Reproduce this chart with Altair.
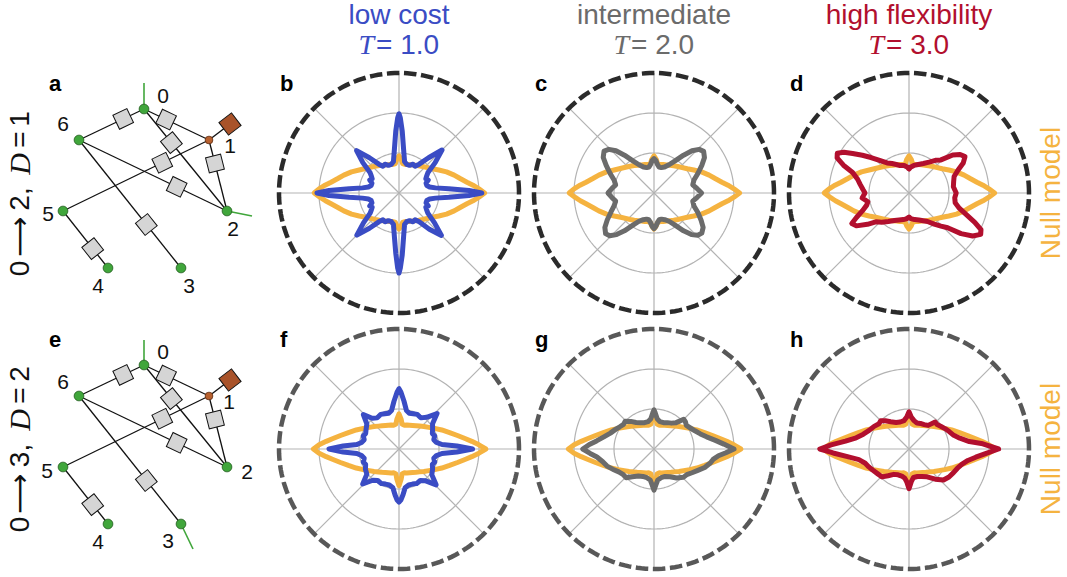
import math
import altair as alt
import pandas as pd

# ------------------------------------------------------------------ styling
SANS = "Liberation Sans"
SERIF = "Liberation Serif"
ARROW_FONT = "DejaVu Sans"
BLUE = "#3a4cc4"
GREY = "#6b6b6b"
RED = "#b20f2e"
ORANGE = "#f5b340"
GRID = "#b3b3b3"
INK = "#111111"
NODE_GREEN = "#40a63b"
NODE_EDGE = "#1f5a1c"
BROWN = "#a9532a"
SQUARE_FILL = "#d5d5d5"
RING_COLOURS = ["#2b2b2b", "#585858"]

# ------------------------------------------------------------------ headers
REGIME_NAMES = ["low cost", "intermediate", "high flexibility"]
REGIME_T = ["1.0", "2.0", "3.0"]
REGIME_COLOURS = [BLUE, GREY, RED]
PANEL_LETTERS = [["b", "c", "d"], ["f", "g", "h"]]
NETWORK_LETTERS = ["a", "e"]

# ------------------------------------------------------------------ polar grid
GRID_RADII = [1, 2]
OUTER_RADIUS = 3
SPOKE_DEG = [0, 45, 90, 135, 180, 225, 270, 315]

# ------------------------------------------------------------------ angular profiles
# angle in degrees (counter-clockwise from east), radius in grid units
NULL1_DEG = [0, 3, 6, 9, 13, 18, 24, 30, 36, 42, 48, 54, 60, 66, 72, 78, 83, 86, 90, 94,
             97, 102, 108, 114, 120, 126, 132, 138, 144, 150, 156, 162, 167, 171, 174, 177, 180, 183, 186, 189,
             193, 198, 204, 210, 216, 222, 228, 234, 240, 246, 252, 258, 263, 266, 270, 274, 277, 282, 288, 294,
             300, 306, 312, 318, 324, 330, 336, 342, 347, 351, 354, 357]
NULL1_R = [2.14, 2.0, 1.86, 1.72, 1.58, 1.45, 1.3, 1.15, 1.03, 0.95, 0.89, 0.84, 0.8, 0.77, 0.75, 0.73, 0.74, 0.84, 0.93, 0.84,
           0.74, 0.73, 0.75, 0.77, 0.8, 0.85, 0.9, 0.96, 1.04, 1.15, 1.3, 1.45, 1.58, 1.72, 1.86, 2.0, 2.12, 1.98, 1.85, 1.72,
           1.58, 1.45, 1.3, 1.15, 1.03, 0.95, 0.89, 0.84, 0.8, 0.77, 0.75, 0.73, 0.74, 0.82, 0.9, 0.82, 0.74, 0.73, 0.75, 0.77,
           0.8, 0.84, 0.89, 0.95, 1.03, 1.15, 1.3, 1.45, 1.58, 1.72, 1.86, 2.0]

NULL2_DEG = NULL1_DEG
NULL2_R = [2.17, 2.0, 1.83, 1.67, 1.5, 1.33, 1.17, 1.03, 0.92, 0.84, 0.77, 0.72, 0.68, 0.65, 0.63, 0.61, 0.63, 0.75, 0.88, 0.75,
           0.63, 0.61, 0.63, 0.65, 0.68, 0.72, 0.77, 0.84, 0.92, 1.03, 1.17, 1.33, 1.5, 1.67, 1.83, 2.0, 2.14, 2.0, 1.83, 1.67,
           1.5, 1.33, 1.17, 1.03, 0.92, 0.84, 0.77, 0.72, 0.68, 0.65, 0.63, 0.61, 0.63, 0.76, 0.92, 0.76, 0.63, 0.61, 0.63, 0.65,
           0.68, 0.72, 0.77, 0.84, 0.92, 1.03, 1.17, 1.33, 1.5, 1.67, 1.83, 2.0]

LOW1_DEG = [0, 2, 5, 8, 11, 15, 20, 24, 28, 32, 35, 40, 45, 50, 55, 59, 64, 69, 75, 80, 84, 87, 89, 90,
            91, 93, 96, 100, 105, 111, 116, 121, 125, 130, 135, 140, 145, 148, 152, 156, 160, 165, 169, 172, 175, 178, 180,
            182, 185, 188, 191, 195, 200, 204, 208, 212, 215, 220, 225, 230, 235, 239, 244, 249, 255, 260, 264, 267, 269, 270,
            271, 273, 276, 280, 285, 291, 296, 301, 305, 310, 315, 320, 325, 328, 332, 336, 340, 345, 349, 352, 355, 358]
LOW1_R = [2.07, 1.75, 1.25, 0.92, 0.78, 0.72, 0.72, 0.8, 0.76, 0.82, 0.88, 1.18, 1.52, 1.15, 0.88, 0.78, 0.8, 0.74, 0.74, 0.8, 1.1, 1.55, 1.88, 1.98,
          1.88, 1.55, 1.1, 0.8, 0.74, 0.74, 0.8, 0.78, 0.88, 1.15, 1.5, 1.18, 0.88, 0.82, 0.76, 0.8, 0.72, 0.72, 0.78, 0.92, 1.25, 1.75, 2.05,
          1.75, 1.25, 0.92, 0.78, 0.72, 0.72, 0.8, 0.76, 0.82, 0.88, 1.16, 1.49, 1.15, 0.88, 0.78, 0.8, 0.74, 0.74, 0.8, 1.1, 1.52, 1.88, 2.0,
          1.88, 1.55, 1.1, 0.8, 0.74, 0.74, 0.8, 0.78, 0.88, 1.18, 1.5, 1.16, 0.88, 0.82, 0.76, 0.8, 0.72, 0.72, 0.78, 0.92, 1.25, 1.75]

MID1_DEG = [0, 6, 12, 18, 24, 30, 35, 40, 44, 48, 52, 57, 62, 68, 74, 79, 83, 87, 90,
            93, 97, 101, 106, 112, 118, 123, 128, 132, 136, 140, 145, 150, 156, 162, 168, 174, 180,
            186, 192, 198, 204, 210, 215, 220, 224, 228, 232, 237, 242, 248, 254, 259, 263, 267, 270,
            273, 277, 281, 286, 292, 298, 303, 308, 312, 316, 320, 325, 330, 336, 342, 348, 354]
MID1_R = [1.19, 1.08, 0.99, 1.05, 1.2, 1.38, 1.54, 1.62, 1.57, 1.42, 1.2, 0.95, 0.8, 0.7, 0.66, 0.66, 0.72, 0.82, 0.86,
          0.82, 0.72, 0.66, 0.66, 0.7, 0.8, 0.95, 1.2, 1.42, 1.57, 1.63, 1.55, 1.38, 1.2, 1.05, 0.98, 1.06, 1.15,
          1.06, 0.98, 1.05, 1.18, 1.35, 1.5, 1.58, 1.54, 1.4, 1.2, 0.95, 0.8, 0.72, 0.68, 0.68, 0.74, 0.84, 0.89,
          0.84, 0.74, 0.68, 0.68, 0.72, 0.8, 0.95, 1.2, 1.4, 1.52, 1.56, 1.5, 1.36, 1.2, 1.05, 0.99, 1.08]

HIGH1_DEG = [0, 8, 14, 20, 25, 29, 33, 37, 41, 46, 51, 57, 64, 72, 80, 86, 90, 94, 100, 108,
             114, 120, 126, 132, 137, 141, 145, 148, 151, 154, 157, 160, 165, 170, 176, 180, 186, 192, 196, 201,
             205, 208, 212, 217, 221, 227, 234, 242, 250, 258, 264, 270, 274, 282, 290, 297, 303, 309, 314, 318,
             322, 326, 330, 333, 336, 339, 343, 348, 354]
HIGH1_R = [1.18, 1.12, 1.15, 1.2, 1.35, 1.55, 1.67, 1.6, 1.45, 1.15, 1.05, 0.92, 0.82, 0.75, 0.7, 0.65, 0.6, 0.65, 0.7, 0.72,
           0.78, 0.85, 0.93, 1.1, 1.3, 1.5, 1.72, 1.92, 2.05, 2.0, 1.78, 1.5, 1.33, 1.24, 1.15, 1.1, 1.18, 1.05, 1.1, 1.25,
           1.45, 1.62, 1.55, 1.3, 1.1, 1.0, 0.88, 0.78, 0.72, 0.68, 0.65, 0.6, 0.64, 0.68, 0.72, 0.78, 0.85, 1.0, 1.15, 1.3,
           1.65, 1.92, 2.07, 2.02, 1.8, 1.55, 1.32, 1.18, 1.15]

LOW2_DEG = [0, 3, 6, 10, 15, 20, 25, 31, 37, 43, 49, 55, 62, 68, 74, 79, 84, 88, 90,
            92, 96, 101, 106, 112, 118, 125, 131, 136, 142, 149, 155, 160, 165, 170, 174, 177, 180,
            183, 186, 190, 195, 200, 205, 211, 218, 224, 230, 236, 243, 249, 255, 261, 265, 268, 270,
            272, 275, 279, 285, 291, 297, 304, 310, 316, 322, 329, 335, 340, 345, 350, 354, 357]
LOW2_R = [1.84, 1.45, 1.08, 0.95, 0.9, 0.95, 0.92, 0.98, 1.05, 1.3, 1.05, 0.95, 0.98, 0.95, 0.93, 0.98, 1.2, 1.42, 1.51,
          1.42, 1.2, 0.98, 0.93, 0.95, 0.98, 0.95, 1.02, 1.24, 1.02, 0.96, 0.92, 0.95, 0.9, 0.95, 1.06, 1.4, 1.75,
          1.4, 1.06, 0.95, 0.9, 0.95, 0.92, 0.98, 1.02, 1.26, 1.02, 0.95, 0.97, 0.94, 0.93, 0.98, 1.15, 1.28, 1.33,
          1.28, 1.15, 0.98, 0.93, 0.94, 0.97, 0.95, 1.04, 1.29, 1.04, 0.98, 0.92, 0.95, 0.9, 0.95, 1.08, 1.45]

MID2_DEG = [0, 4, 8, 13, 18, 24, 30, 36, 41, 45, 50, 56, 63, 70, 78, 84, 88, 90, 92, 96,
            102, 110, 117, 124, 130, 136, 141, 147, 153, 160, 166, 172, 176, 180, 184, 188, 194, 200, 206, 213,
            220, 226, 232, 240, 248, 256, 263, 267, 270, 273, 277, 284, 292, 300, 308, 316, 322, 328, 334, 340,
            346, 350, 354, 357]
MID2_R = [2.0, 1.75, 1.55, 1.35, 1.22, 1.12, 1.05, 1.0, 1.04, 1.05, 0.86, 0.78, 0.74, 0.7, 0.7, 0.76, 0.9, 0.98, 0.9, 0.76,
          0.7, 0.7, 0.74, 0.8, 0.9, 1.0, 0.98, 1.02, 1.08, 1.16, 1.28, 1.45, 1.62, 1.78, 1.6, 1.44, 1.32, 1.25, 1.15, 1.05,
          1.0, 1.0, 0.88, 0.78, 0.74, 0.74, 0.78, 0.9, 1.03, 0.9, 0.78, 0.74, 0.74, 0.8, 0.92, 1.02, 1.04, 1.12, 1.22, 1.35,
          1.45, 1.5, 1.62, 1.8]

HIGH2_DEG = [0, 4, 7, 12, 17, 23, 29, 35, 41, 46, 51, 58, 66, 73, 80, 86, 90, 94, 100, 108,
             116, 124, 130, 135, 140, 147, 155, 162, 168, 173, 177, 180, 183, 187, 192, 198, 204, 210, 218, 226,
             232, 239, 247, 255, 262, 266, 270, 274, 279, 287, 295, 303, 311, 318, 325, 332, 338, 344, 349, 353,
             357]
HIGH2_R = [2.24, 1.85, 1.52, 1.3, 1.17, 1.1, 1.04, 0.98, 0.93, 0.94, 0.76, 0.72, 0.7, 0.68, 0.72, 0.8, 0.93, 0.8, 0.72, 0.71,
           0.74, 0.82, 0.92, 1.0, 0.98, 1.04, 1.1, 1.2, 1.35, 1.6, 1.95, 2.23, 1.9, 1.55, 1.28, 1.15, 1.1, 1.05, 1.0, 0.97,
           0.85, 0.74, 0.7, 0.7, 0.74, 0.82, 0.99, 0.82, 0.72, 0.72, 0.76, 0.83, 1.0, 1.16, 1.22, 1.26, 1.3, 1.38, 1.5, 1.68,
           1.95]

# ------------------------------------------------------------------ network layout
NODE_ID = ["0", "1", "2", "3", "4", "5", "6"]
NODE_X = [144, 209, 227, 181, 108, 63, 79]
NODE_Y = [36, 67, 138, 195, 195, 138, 67]
JUNCTION_NODE = "1"
EDGE_FROM = ["0", "0", "0", "6", "6", "5", "1", "5"]
EDGE_TO = ["6", "1", "2", "2", "3", "1", "2", "4"]
EDGE_SQUARE_AT = [0.32, 0.34, 0.33, 0.66, 0.66, 0.68, 0.33, 0.66]
SUPPLY_X = [230]
SUPPLY_Y = [51]

# per row: terminals (green stubs) and node label placement
STUB_FROM = [["0", "2"], ["0", "3"]]
STUB_END_X = [[144, 252], [144, 193]]
STUB_END_Y = [[10, 143], [11, 220]]
LABEL_X = [[163, 230, 233, 189, 98, 48, 63], [163, 229, 247, 168, 98, 47, 63]]
LABEL_Y = [[24, 74, 157, 214, 214, 142, 52], [24, 74, 144, 213, 214, 143, 54]]

# rotated row captions, read bottom to top
ROW_TEXT = [["0", "\u27f6", "2,", "D", "=", "1"], ["0", "\u27f6", "3,", "D", "=", "2"]]
ROW_POS = [[195.5, 164, 126, 91, 66.5, 46], [195.5, 165, 126.5, 91, 66.5, 45]]
ROW_ITALIC = [False, False, False, True, False, False]

ONE = pd.DataFrame({"v": [0]})

# ------------------------------------------------------------------ polar panels
PS = alt.Scale(domain=[-OUTER_RADIUS, OUTER_RADIUS], nice=False, zero=False)
PX = alt.X("px:Q", scale=PS, axis=None)
PY = alt.Y("py:Q", scale=PS, axis=None)


def to_xy(chart):
    return chart.transform_calculate(
        px="datum.r * cos(datum.deg * PI / 180)",
        py="datum.r * sin(datum.deg * PI / 180)",
    )


def profile(deg, r):
    return pd.DataFrame({"deg": deg, "r": r, "k": list(range(len(deg)))})


spoke_df = pd.DataFrame({"deg": SPOKE_DEG, "r": OUTER_RADIUS, "c": 0.0})
grid_df = pd.DataFrame([{"ring": g, "deg": d, "r": g} for g in GRID_RADII for d in range(0, 360, 2)])
outer_df = pd.DataFrame({"deg": list(range(0, 360, 2)), "r": OUTER_RADIUS})

NULL_PROFILES = [profile(NULL1_DEG, NULL1_R), profile(NULL2_DEG, NULL2_R)]
REGIME_PROFILES = [
    [profile(LOW1_DEG, LOW1_R), profile(MID1_DEG, MID1_R), profile(HIGH1_DEG, HIGH1_R)],
    [profile(LOW2_DEG, LOW2_R), profile(MID2_DEG, MID2_R), profile(HIGH2_DEG, HIGH2_R)],
]


def polar_panel(null_prof, prof, colour, letter, ring_colour, null_label):
    spokes = to_xy(alt.Chart(spoke_df)).mark_rule(color=GRID, strokeWidth=1.2).encode(
        x=alt.X("c:Q", scale=PS, axis=None),
        y=alt.Y("c:Q", scale=PS, axis=None),
        x2=alt.X2("px"),
        y2=alt.Y2("py"),
    )
    grid = to_xy(alt.Chart(grid_df)).mark_line(
        interpolate="linear-closed", color=GRID, strokeWidth=1.2
    ).encode(x=PX, y=PY, detail="ring:N", order="deg:Q")
    outer = to_xy(alt.Chart(outer_df)).mark_line(
        interpolate="linear-closed", color=ring_colour, strokeWidth=4.5, strokeDash=[12.5, 4.6]
    ).encode(x=PX, y=PY, order="deg:Q")
    null = to_xy(alt.Chart(null_prof)).mark_line(
        interpolate="linear-closed", color=ORANGE, strokeWidth=5, strokeJoin="round"
    ).encode(x=PX, y=PY, order="k:Q")
    main = to_xy(alt.Chart(prof)).mark_line(
        interpolate="linear-closed", color=colour, strokeWidth=5, strokeJoin="round"
    ).encode(x=PX, y=PY, order="k:Q")
    lab = alt.Chart(ONE).mark_text(
        text=letter, font=SANS, fontSize=22, fontWeight="bold", color="black",
        align="left", baseline="alphabetic",
    ).encode(x=alt.value(1), y=alt.value(18))
    layers = [spokes, grid, outer, null, main, lab]
    if null_label:
        layers.append(
            alt.Chart(ONE).mark_text(
                text="Null model", font=SANS, fontSize=28, color=ORANGE, angle=270,
                align="center", baseline="middle",
            ).encode(x=alt.value(263), y=alt.value(120))
        )
    return alt.layer(*layers).properties(width=240, height=240)


# ------------------------------------------------------------------ network panels
NX = alt.Scale(domain=[0, 264], nice=False, zero=False)
NY = alt.Scale(domain=[240, 0], nice=False, zero=False)
pos = dict(zip(NODE_ID, zip(NODE_X, NODE_Y)))

edge_rows = []
for a, b, t in zip(EDGE_FROM, EDGE_TO, EDGE_SQUARE_AT):
    (x1, y1), (x2, y2) = pos[a], pos[b]
    edge_rows.append(dict(
        x=x1, y=y1, x2=x2, y2=y2,
        sx=x1 + t * (x2 - x1), sy=y1 + t * (y2 - y1),
        ang=math.degrees(math.atan2(y2 - y1, x2 - x1)) % 90,
    ))
jx, jy = pos[JUNCTION_NODE]
supply_rows = [dict(x=jx, y=jy, x2=sx, y2=sy, sx=sx, sy=sy,
                    ang=math.degrees(math.atan2(sy - jy, sx - jx)) % 90)
               for sx, sy in zip(SUPPLY_X, SUPPLY_Y)]
edge_df = pd.DataFrame(edge_rows + supply_rows)
square_df = pd.DataFrame(edge_rows)
supply_df = pd.DataFrame(supply_rows)
node_df = pd.DataFrame({"id": NODE_ID, "x": NODE_X, "y": NODE_Y})
green_df = node_df[node_df["id"] != JUNCTION_NODE]
junction_df = node_df[node_df["id"] == JUNCTION_NODE]


def network_panel(row):
    ex = alt.X("x:Q", scale=NX, axis=None)
    ey = alt.Y("y:Q", scale=NY, axis=None)
    stub_df = pd.DataFrame({
        "x": [pos[n][0] for n in STUB_FROM[row]],
        "y": [pos[n][1] for n in STUB_FROM[row]],
        "x2": STUB_END_X[row],
        "y2": STUB_END_Y[row],
    })
    stubs = alt.Chart(stub_df).mark_rule(color=NODE_GREEN, strokeWidth=1.6).encode(
        x=ex, y=ey, x2=alt.X2("x2"), y2=alt.Y2("y2"))
    edges = alt.Chart(edge_df).mark_rule(color=INK, strokeWidth=1.3).encode(
        x=ex, y=ey, x2=alt.X2("x2"), y2=alt.Y2("y2"))
    squares = alt.Chart(square_df).mark_point(
        shape="square", filled=True, fill=SQUARE_FILL, stroke=INK, strokeWidth=1,
        size=240, opacity=1,
    ).encode(x=alt.X("sx:Q", scale=NX, axis=None), y=alt.Y("sy:Q", scale=NY, axis=None),
             angle=alt.Angle("ang:Q", scale=None))
    supply = alt.Chart(supply_df).mark_point(
        shape="square", filled=True, fill=BROWN, stroke=INK, strokeWidth=1,
        size=250, opacity=1,
    ).encode(x=alt.X("sx:Q", scale=NX, axis=None), y=alt.Y("sy:Q", scale=NY, axis=None),
             angle=alt.Angle("ang:Q", scale=None))
    greens = alt.Chart(green_df).mark_circle(
        size=95, color=NODE_GREEN, stroke=NODE_EDGE, strokeWidth=0.8, opacity=1
    ).encode(x=ex, y=ey)
    junction = alt.Chart(junction_df).mark_circle(
        size=60, color="#b8612f", stroke="#5a2a10", strokeWidth=0.8, opacity=1
    ).encode(x=ex, y=ey)
    lab_df = pd.DataFrame({"t": NODE_ID, "x": LABEL_X[row], "y": LABEL_Y[row]})
    labels = alt.Chart(lab_df).mark_text(
        font=SANS, fontSize=21, color=INK, align="center", baseline="middle"
    ).encode(x=ex, y=ey, text="t:N")
    letter = alt.Chart(ONE).mark_text(
        text=NETWORK_LETTERS[row], font=SANS, fontSize=22, fontWeight="bold", color="black",
        align="left", baseline="alphabetic",
    ).encode(x=alt.value(49), y=alt.value(18))
    cap = pd.DataFrame({"t": ROW_TEXT[row], "p": ROW_POS[row], "it": ROW_ITALIC})
    cap_plain = cap[~cap["it"] & (cap["t"] != "\u27f6")]
    cap_arrow = cap[cap["t"] == "\u27f6"]
    cap_ital = cap[cap["it"]]
    cy = alt.Y("p:Q", scale=NY, axis=None)
    plain = alt.Chart(cap_plain).mark_text(
        font=SANS, fontSize=28, color=INK, angle=270, align="center", baseline="middle"
    ).encode(x=alt.value(21), y=cy, text="t:N")
    arrow = alt.Chart(cap_arrow).mark_text(
        font=ARROW_FONT, fontSize=28, color=INK, angle=270, align="center", baseline="middle"
    ).encode(x=alt.value(21), y=cy, text="t:N")
    ital = alt.Chart(cap_ital).mark_text(
        font=SERIF, fontSize=30, fontStyle="italic", color=INK, angle=270,
        align="center", baseline="middle",
    ).encode(x=alt.value(21), y=cy, text="t:N")
    return alt.layer(stubs, edges, squares, supply, greens, junction, labels, letter,
                     plain, arrow, ital).properties(width=264, height=240)


# ------------------------------------------------------------------ header cells
def header_cell(name, tval, colour):
    base = alt.Chart(ONE)
    line1 = base.mark_text(
        text=name, font=SANS, fontSize=28, color=colour, align="center", baseline="alphabetic"
    ).encode(x=alt.value(120), y=alt.value(24))
    t = base.mark_text(
        text="T", font=SERIF, fontSize=28, fontStyle="italic", color=colour,
        align="right", baseline="alphabetic",
    ).encode(x=alt.value(95), y=alt.value(54))
    eq = base.mark_text(
        text="= " + tval, font=SANS, fontSize=28, color=colour, align="left", baseline="alphabetic"
    ).encode(x=alt.value(97), y=alt.value(54))
    return alt.layer(line1, t, eq).properties(width=240, height=57)


cells = [alt.Chart(ONE).mark_text(text=" ").properties(width=264, height=57)]
cells += [header_cell(n, t, c) for n, t, c in zip(REGIME_NAMES, REGIME_T, REGIME_COLOURS)]
for i in range(2):
    cells.append(network_panel(i))
    for j in range(3):
        cells.append(polar_panel(NULL_PROFILES[i], REGIME_PROFILES[i][j], REGIME_COLOURS[j],
                                 PANEL_LETTERS[i][j], RING_COLOURS[i], j == 2))

chart = alt.concat(
    *cells, columns=4, align="each", bounds="flush",
    spacing={"row": 16, "column": 15},
).configure_view(strokeWidth=0).properties(padding=0, background="white")

chart.save("out.html", embed_options={"renderer": "svg", "actions": False})
